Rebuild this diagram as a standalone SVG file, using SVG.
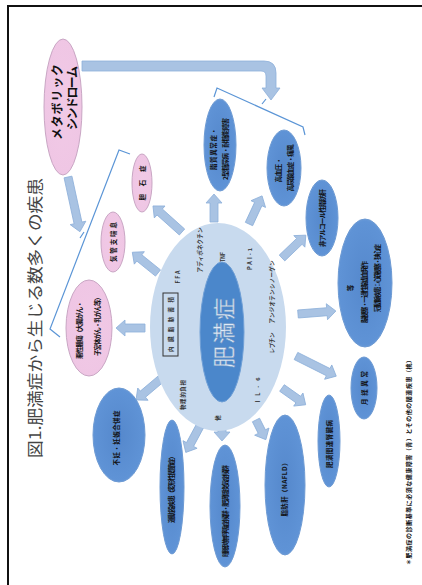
<svg xmlns="http://www.w3.org/2000/svg" width="422" height="585" viewBox="0 0 422 585">
<style>
.frame{fill:#fff;stroke:#111;stroke-width:2}
.blue{fill:url(#gb);stroke:#6d9ad3;stroke-width:1}
.pink{fill:url(#gp);stroke:#c9a6c4;stroke-width:1}
.arr{fill:#a9c3e3;stroke:#8eb0da;stroke-width:0.8}
.brk{fill:none;stroke:#5b95d6;stroke-width:1.2}
.lb{font-family:"Noto Sans CJK JP","Noto Sans",sans-serif;font-weight:700;font-size:6.5px;fill:#111;text-anchor:middle;dominant-baseline:central}
.sm{font-family:"Noto Sans CJK JP","Noto Sans",sans-serif;font-weight:700;font-size:5.5px;fill:#333;text-anchor:middle;dominant-baseline:central}
</style>
<defs>
<radialGradient id="gb" cx="0.5" cy="0.5" r="0.6">
<stop offset="0" stop-color="#5588cc"/><stop offset="0.8" stop-color="#5f93d6"/><stop offset="1" stop-color="#8fb8e8"/>
</radialGradient>
<radialGradient id="gp" cx="0.5" cy="0.5" r="0.6">
<stop offset="0" stop-color="#f1c9e6"/><stop offset="0.85" stop-color="#efc6e4"/><stop offset="1" stop-color="#f8e4f2"/>
</radialGradient>
</defs>
<rect class="frame" x="8" y="6" width="430" height="600"/>
<g id="title"><text transform="translate(34,318) rotate(-90)" font-family="'Noto Sans CJK JP',sans-serif" font-size="16" fill="#444" text-anchor="middle" dominant-baseline="central" textLength="280" lengthAdjust="spacingAndGlyphs">図1.肥満症から生じる数多くの疾患</text></g>

<g id="connectors">
<path class="arr" d="M82,61 H264 Q276,61 276,73 V88 H280 L271,100 L262,88 H266 V76 Q266,71 261,71 H82 Z" fill="#d2e2f4"/>
<path class="brk" d="M214,97 L217,88 L303,127 L305,135 M262,104 L266,99"/>
<path class="brk" d="M130,154 L119,150 L50,329 L60,337 M80,238 L84,232"/>
<path class="arr" transform="translate(68,177) rotate(77.7)" d="M0,-4 H47 V-8 L56,0 L47,8 V4 H0 Z"/>
<path class="arr" transform="translate(182,232) rotate(-138.1)" d="M0,-4 H30 V-8 L39,0 L30,8 V4 H0 Z"/>
<path class="arr" transform="translate(158,273) rotate(-141.1)" d="M0,-4 H24 V-8 L33,0 L24,8 V4 H0 Z"/>
<path class="arr" transform="translate(145,328) rotate(180)" d="M0,-4 H20 V-8 L29,0 L20,8 V4 H0 Z"/>
<path class="arr" transform="translate(214,222) rotate(-90)" d="M0,-4 H19 V-8 L28,0 L19,8 V4 H0 Z"/>
<path class="arr" transform="translate(249,224) rotate(-65.1)" d="M0,-4 H22 V-8 L31,0 L22,8 V4 H0 Z"/>
<path class="arr" transform="translate(282,258) rotate(-43.8)" d="M0,-4 H24 V-8 L33,0 L24,8 V4 H0 Z"/>
<path class="arr" transform="translate(298,314) rotate(-4.5)" d="M0,-4 H29 V-8 L38,0 L29,8 V4 H0 Z"/>
<path class="arr" transform="translate(296,356) rotate(26.6)" d="M0,-4 H36 V-8 L45,0 L36,8 V4 H0 Z"/>
<path class="arr" transform="translate(282,388) rotate(35.3)" d="M0,-4 H20 V-8 L29,0 L20,8 V4 H0 Z"/>
<path class="arr" transform="translate(256,420) rotate(63.4)" d="M0,-4 H13 V-8 L22,0 L13,8 V4 H0 Z"/>
<path class="arr" transform="translate(222,422) rotate(90)" d="M0,-4 H10 V-8 L19,0 L10,8 V4 H0 Z"/>
<path class="arr" transform="translate(200,426) rotate(118.3)" d="M0,-4 H21 V-8 L30,0 L21,8 V4 H0 Z"/>
<path class="arr" transform="translate(162,378) rotate(139.8)" d="M0,-4 H25 V-8 L34,0 L25,8 V4 H0 Z"/>
</g>

<g id="center">
<ellipse cx="218" cy="327" rx="68" ry="104" fill="#c8daee"/>
<ellipse cx="222" cy="332" rx="22" ry="70" fill="#4b87cb" stroke="#6f9fd6"/>
<text transform="translate(222,333) rotate(-90)" font-family="'Noto Sans CJK JP',sans-serif" font-size="22" fill="#dfeaf7" stroke="#7c9cc4" stroke-width="0.5" text-anchor="middle" dominant-baseline="central" textLength="70">肥満症</text>
<rect x="163" y="293" width="15" height="63" fill="none" stroke="#333" stroke-width="1"/>
<text class="sm" transform="translate(170.5,324.5) rotate(-90)" textLength="55">内臓脂肪蓄積</text>
<text class="sm" transform="translate(200,250) rotate(-90)" textLength="45">アディポネクチン</text>
<text class="sm" transform="translate(178,277) rotate(-90)" textLength="13">FFA</text>
<text class="sm" transform="translate(223,257) rotate(-90)" textLength="10">TNF</text>
<text class="sm" transform="translate(250,259) rotate(-90)" textLength="22">PAI-1</text>
<text class="sm" transform="translate(272,292) rotate(-90)" textLength="63">アンジオテンシノーゲン</text>
<text class="sm" transform="translate(272,343) rotate(-90)" textLength="21">レプチン</text>
<text class="sm" transform="translate(258,390) rotate(-90)" textLength="25">IL-6</text>
<text class="sm" transform="translate(183,395) rotate(-90)" textLength="30">物理的負担</text>
<text class="sm" transform="translate(218,418) rotate(-90)" textLength="10">他</text>
</g>

<g id="metsyn">
<ellipse class="pink" cx="63" cy="107" rx="19" ry="68"/>
<text class="lb" style="font-size:12px" transform="translate(56,102) rotate(-90)" textLength="76">メタボリック</text>
<text class="lb" style="font-size:12px" transform="translate(71,98) rotate(-90)" textLength="64">シンドローム</text>
</g>
<g id="p1"><ellipse class="pink" cx="142" cy="183" rx="10" ry="29"/>
<text class="lb" transform="translate(142,183) rotate(-90)" textLength="35">胆石症</text></g>
<g id="p2"><ellipse class="pink" cx="113" cy="242" rx="12" ry="30"/>
<text class="lb" transform="translate(113,242) rotate(-90)" textLength="40">気管支喘息</text></g>
<g id="p3"><ellipse class="pink" cx="89" cy="328" rx="23" ry="48"/>
<text class="lb" transform="translate(79,330) rotate(-90)" textLength="58">悪性腫瘍（大腸がん・</text>
<text class="lb" transform="translate(97,325) rotate(-90)" textLength="62">子宮体がん・乳がん等）</text></g>

<g id="n1"><ellipse class="blue" cx="220" cy="145" rx="16" ry="46"/>
<text class="lb" transform="translate(213,149) rotate(-90)" textLength="42">脂質異常症・</text>
<text class="lb" transform="translate(225,149) rotate(-90)" textLength="62">2型糖尿病・耐糖能障害</text></g>
<g id="n2"><ellipse class="blue" cx="284" cy="168" rx="17" ry="38"/>
<text class="lb" transform="translate(278,170) rotate(-90)" textLength="25">高血圧・</text>
<text class="lb" transform="translate(290,168) rotate(-90)" textLength="47">高尿酸血症・痛風</text></g>
<g id="n3"><ellipse class="blue" cx="322" cy="218" rx="16" ry="38"/>
<text class="lb" transform="translate(322,218) rotate(-90)" textLength="58">非アルコール性脂肪肝</text></g>
<g id="n4"><ellipse class="blue" cx="365" cy="283" rx="27" ry="64"/>
<text class="lb" transform="translate(350,288) rotate(-90)">等</text>
<text class="lb" transform="translate(364,292) rotate(-90)" textLength="62">脳梗塞・一過性脳虚血発作</text>
<text class="lb" transform="translate(377,278) rotate(-90)" textLength="68">冠動脈疾患：心筋梗塞・狭心症</text></g>
<g id="n5"><ellipse class="blue" cx="364" cy="388" rx="13" ry="31"/>
<text class="lb" transform="translate(364,388) rotate(-90)" textLength="34">月経異常</text></g>
<g id="n6"><ellipse class="blue" cx="329" cy="441" rx="11" ry="46"/>
<text class="lb" transform="translate(329,444) rotate(-90)" textLength="48">肥満関連腎臓病</text></g>
<g id="n7"><ellipse class="blue" cx="285" cy="485" rx="20" ry="70"/>
<text class="lb" transform="translate(284,488) rotate(-90)" textLength="57">脂肪肝（NAFLD）</text></g>
<g id="n8"><ellipse class="blue" cx="225" cy="506" rx="15" ry="61"/>
<text class="lb" transform="translate(225,511) rotate(-90)" textLength="92">睡眠時無呼吸症候群・肥満低換気症候群</text></g>
<g id="n9"><ellipse class="blue" cx="172" cy="487" rx="12" ry="67"/>
<text class="lb" transform="translate(171,488) rotate(-90)" textLength="70">運動器疾患（変形性関節症）</text></g>
<g id="n10"><ellipse class="blue" cx="119" cy="435" rx="26" ry="47"/>
<text class="lb" transform="translate(116,438) rotate(-90)" textLength="55">不妊・妊娠合併症</text></g>

<g id="note"><text class="lb" style="font-size:6px" transform="translate(408,461) rotate(-90)" textLength="208">＊肥満症の診断基準に必須な健康障害（青）とその他の関連疾患（桃）</text></g>
</svg>
